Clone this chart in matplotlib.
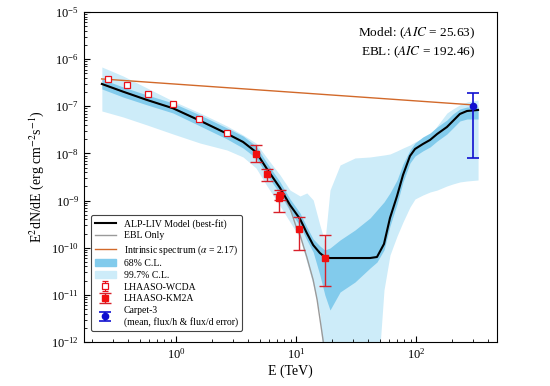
import numpy as np
import matplotlib
matplotlib.use("Agg")
import matplotlib.pyplot as plt
from matplotlib.patches import Patch

plt.rcParams.update({
    'font.family': ['Liberation Serif', 'DejaVu Serif'],
    'mathtext.fontset': 'stix',
    'font.size': 9,
})

# ---- model curves and confidence bands, E in TeV, E^2 dN/dE in erg cm^-2 s^-1 ----
E_grid = [0.241, 0.362, 0.573, 0.944, 1.585, 2.66, 3.62, 4.64, 5.73, 7.36,
          8.91, 10.8, 12.3, 13.9, 15.8, 17.4, 19.2, 23.3, 31.0, 41.4,
          47.3, 54.1, 60.7, 69.5, 77.9, 89.1, 98.1, 114, 131, 150,
          181, 203, 232, 266, 329]
model_best = [2.97e-7, 2.04e-7, 1.36e-7, 9.06e-8, 4.94e-8, 2.62e-8, 1.75e-8, 1.07e-8, 4.67e-9, 1.85e-9,
              8.05e-10, 4.07e-10, 2.05e-10, 1.14e-10, 7.72e-11, 6.35e-11, 6.04e-11, 6.04e-11, 6.04e-11, 6.04e-11,
              6.35e-11, 1.2e-10, 4.27e-10, 1.25e-9, 3.48e-9, 8.82e-9, 1.24e-8, 1.58e-8, 1.93e-8, 2.58e-8,
              3.63e-8, 4.87e-8, 6.86e-8, 7.94e-8, 8.34e-8]
cl68_hi = [3.79e-7, 2.56e-7, 1.74e-7, 1.17e-7, 6.53e-8, 3.46e-8, 2.34e-8, 1.44e-8, 6.27e-9, 2.48e-9,
           1.08e-9, 5.45e-10, 2.75e-10, 1.53e-10, 1.09e-10, 8.94e-11, 9.85e-11, 1.46e-10, 2.37e-10, 4.27e-10,
           6.3e-10, 9.32e-10, 1.45e-9, 2.73e-9, 5.97e-9, 1.18e-8, 1.66e-8, 2.23e-8, 2.71e-8, 3.64e-8,
           5.12e-8, 6.86e-8, 8.76e-8, 9.65e-8, 9.65e-8]
cl68_lo = [2.33e-7, 1.57e-7, 1.07e-7, 7.2e-8, 3.82e-8, 2.02e-8, 1.30e-8, 8.0e-9, 3.48e-9, 1.38e-9,
           6.0e-10, 2.89e-10, 1.46e-10, 8.1e-11, 2.64e-11, 9.92e-12, 4.77e-12, 1.15e-11, 1.87e-11, 3.71e-11,
           4.97e-11, 8.94e-11, 2.89e-10, 8.45e-10, 2.48e-9, 6.27e-9, 8.82e-9, 1.13e-8, 1.37e-8, 1.83e-8,
           2.58e-8, 3.46e-8, 4.87e-8, 5.37e-8, 5.37e-8]
cl997_hi = [6.81e-7, 4.39e-7, 2.44e-7, 1.29e-7, 7.2e-8, 3.82e-8, 2.46e-8, 1.66e-8, 8.0e-9, 3.48e-9,
            1.67e-9, 1.25e-9, 1.45e-9, 1.03e-9, 3.03e-10, 1.32e-10, 1.67e-9, 5.68e-9, 8.0e-9, 8.4e-9,
            8.82e-9, 9.25e-9, 9.72e-9, 1.13e-8, 1.30e-8, 1.51e-8, 1.75e-8, 2.12e-8, 2.46e-8, 3.82e-8,
            7.2e-8, 8.76e-8, 1.07e-7, 1.23e-7, 1.36e-7]
cl997_lo = [7.94e-8, 5.93e-8, 4.01e-8, 2.58e-8, 1.66e-8, 1.18e-8, 8.4e-9, 4.91e-9, 2.04e-9, 7.66e-10,
            3.51e-10, 1.61e-10, 4.97e-11, 1.62e-11, 4e-12, 1e-13, 1e-13, 1e-13, 1e-13, 1e-13,
            1e-13, 1.27e-11, 7.0e-11, 1.77e-10, 3.51e-10, 7.3e-10, 1.08e-9, 1.31e-9, 1.52e-9, 1.67e-9,
            2.04e-9, 2.25e-9, 2.48e-9, 2.6e-9, 2.73e-9]

E_ebl = [0.241, 0.362, 0.573, 0.944, 1.585, 2.66, 3.62, 4.64, 5.73, 7.36,
         8.91, 10.1, 10.8, 12.3, 13.9, 15.0, 16.9, 17.8]
ebl_only = [2.97e-7, 2.04e-7, 1.36e-7, 9.06e-8, 4.94e-8, 2.62e-8, 1.75e-8, 1.07e-8, 4.67e-9, 1.85e-9,
            6.95e-10, 2.62e-10, 1.86e-10, 6.35e-11, 2.07e-11, 7.8e-12, 1e-12, 1e-13]

E_intr = [0.24, 297]
intrinsic = [3.8e-7, 1.07e-7]

# ---- data points ----
wcda_E = [0.273, 0.388, 0.581, 0.939, 1.563, 2.646]
wcda_F = [3.79e-7, 2.83e-7, 1.82e-7, 1.10e-7, 5.37e-8, 2.75e-8]
wcda_hi = [4.0e-7, 2.98e-7, 1.92e-7, 1.16e-7, 5.7e-8, 2.92e-8]
wcda_lo = [3.6e-7, 2.68e-7, 1.72e-7, 1.04e-7, 5.05e-8, 2.58e-8]

km2a_E = [4.62, 5.76, 7.36, 7.21, 10.65, 17.4]
km2a_F = [9.73e-9, 3.66e-9, 1.31e-9, 1.12e-9, 2.45e-10, 5.96e-11]
km2a_hi = [1.51e-8, 4.6e-9, 1.67e-9, 1.4e-9, 4.42e-10, 1.86e-10]
km2a_lo = [6.67e-9, 2.64e-9, 1.05e-9, 5.8e-10, 8.9e-11, 1.55e-11]

carpet_E = [297]
carpet_F = [1.0e-7]
carpet_hi = [1.88e-7]
carpet_lo = [7.9e-9]

x_major = [1, 10, 100]
y_major = [1e-12, 1e-11, 1e-10, 1e-9, 1e-8, 1e-7, 1e-6, 1e-5]

c68 = "#82cbec"
c997 = "#cdecf9"

fig = plt.figure(figsize=(5.5, 3.86), dpi=100)
ax = fig.add_axes([0.1527, 0.114, 0.7509, 0.855])

ax.fill_between(E_grid, cl997_lo, cl997_hi, color=c997, lw=0, zorder=1)
ax.fill_between(E_grid, cl68_lo, cl68_hi, color=c68, lw=0, zorder=2)
ax.plot(E_ebl, ebl_only, color="#9a9a9a", lw=1.0, zorder=3, label="EBL Only")
ax.plot(E_intr, intrinsic, color="#d2692a", lw=1.0, zorder=3,
        label=r"Intrinsic spectrum ($\alpha$ = 2.17)")
ax.plot(E_grid, model_best, color="black", lw=1.5, zorder=4, label="ALP-LIV Model (best-fit)")

def yerr(f, lo, hi):
    f = np.asarray(f); return [f - np.asarray(lo), np.asarray(hi) - f]

ax.errorbar(wcda_E, wcda_F, yerr=yerr(wcda_F, wcda_lo, wcda_hi), fmt='s', ms=5,
            mfc='white', mec='#e8101a', mew=0.9, color='#e8101a', elinewidth=0.8,
            capsize=2, zorder=5, label="LHAASO-WCDA")
ax.errorbar(km2a_E, km2a_F, yerr=yerr(km2a_F, km2a_lo, km2a_hi), fmt='s', ms=4.5,
            mfc='#f01010', mec='#f01010', color='#d8202a', elinewidth=1.0,
            capsize=4, capthick=1.0, zorder=5, label="LHAASO-KM2A")
ax.errorbar(carpet_E, carpet_F, yerr=yerr(carpet_F, carpet_lo, carpet_hi), fmt='o', ms=4.5,
            mfc='#1010d0', mec='#1010d0', color='#1010d0', elinewidth=1.2,
            capsize=4, capthick=1.2, zorder=6,
            label="Carpet-3\n(mean, flux/h & flux/d error)")

ax.set_xscale('log')
ax.set_yscale('log')
ax.set_xticks(x_major)
ax.set_yticks(y_major)
ax.set_xlim(0.171, 473)
ax.set_ylim(1e-12, 1e-5)
ax.tick_params(which='both', direction='in', top=False, right=False, labelsize=9)
ax.tick_params(which='major', length=4)
ax.tick_params(which='minor', length=2)
ax.yaxis.set_minor_locator(matplotlib.ticker.LogLocator(base=10, subs=np.arange(2, 10), numticks=20))
ax.yaxis.set_minor_formatter(matplotlib.ticker.NullFormatter())
ax.xaxis.set_minor_formatter(matplotlib.ticker.NullFormatter())
ax.set_xlabel("E (TeV)", fontsize=10, labelpad=2)
ax.set_ylabel(r"E$^2$dN/dE (erg cm$^{-2}$s$^{-1}$)", fontsize=10, labelpad=4)

ax.text(0.947, 0.936, r"Model: ($AIC$ = 25.63)", transform=ax.transAxes, ha='right', va='center', fontsize=9.5)
ax.text(0.947, 0.879, r"EBL: ($AIC$ = 192.46)", transform=ax.transAxes, ha='right', va='center', fontsize=9.5)

h, l = ax.get_legend_handles_labels()
hd = dict(zip(l, h))
order = ["ALP-LIV Model (best-fit)", "EBL Only", r"Intrinsic spectrum ($\alpha$ = 2.17)"]
handles = [hd[k] for k in order] + [Patch(color=c68), Patch(color=c997)] + \
          [hd["LHAASO-WCDA"], hd["LHAASO-KM2A"], hd["Carpet-3\n(mean, flux/h & flux/d error)"]]
labels = order + ["68% C.L.", "99.7% C.L.", "LHAASO-WCDA", "LHAASO-KM2A",
                  "Carpet-3\n(mean, flux/h & flux/d error)"]
leg = ax.legend(handles, labels, loc='lower left', bbox_to_anchor=(0.005, 0.02),
                fontsize=7, labelspacing=0.28, handlelength=2.2, borderpad=0.4,
                frameon=True, framealpha=1.0, edgecolor='#444444')
leg.get_frame().set_linewidth(0.8)

fig.savefig("out.png", dpi=100)
